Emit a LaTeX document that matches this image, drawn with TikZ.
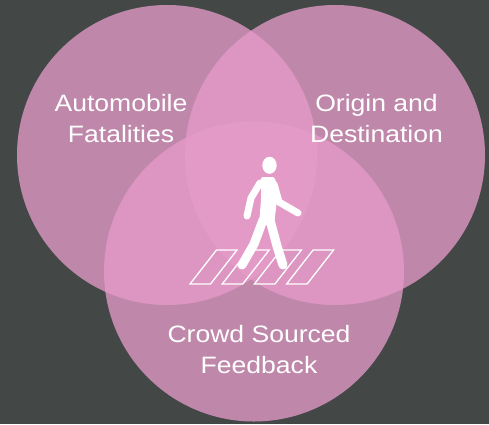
\documentclass[tikz,border=0pt]{standalone}
\usepackage{fontspec}
\newfontfamily\vennfont[FakeStretch=1.12]{Liberation Sans}
\definecolor{sfondo}{RGB}{67,72,71}
\definecolor{rosa}{RGB}{230,156,201}

\begin{document}
\begin{tikzpicture}[x=1pt,y=-1pt]

% Stili per cerchi, testi e pedone
\tikzset{cerchio/.style={fill=rosa, fill opacity=0.76},
  etichetta/.style={text=white, font=\vennfont\fontsize{23.7}{31}\selectfont, align=center, inner sep=0pt},
  strisce/.style={draw=white, line width=1.3pt},
  arto/.style={draw=white, line width=7pt, line cap=round, line join=round}}

% Sfondo
\fill[sfondo] (0,0) rectangle (489,424);
\useasboundingbox (0,0) rectangle (489,424);

% --- Cerchi del diagramma di Venn ---
\fill[cerchio] (167,155) circle (150pt);
\fill[cerchio] (335,155) circle (150pt);
\fill[cerchio] (254,271.5) circle (150pt);

% Testi
\node[etichetta] (auto) at (121,119) {Automobile\\Fatalities};
\node[etichetta] (orig) at (376.5,119) {Origin and\\Destination};
\node[etichetta] (crowd) at (259,349.5) {Crowd Sourced\\Feedback};

% --- Strisce pedonali ---
\foreach \i in {0,...,3}
  \draw[strisce] ({190+32.2*\i},284) -- ++(20.5,0) -- ++(26.5,-34) -- ++(-20.5,0) -- cycle;

% --- Pedone ---
\fill[white] (269.5,165.3) ellipse (7.2 and 8.5);
\fill[white, rounded corners=2pt] (261,177) -- (275,177) -- (277,200) -- (274,225) -- (259,225) -- (261,200) -- cycle;
\draw[arto] (260,183) -- (251,198) -- (247,216);
\draw[arto] (274,184) -- (279,202) -- (298,213);
\draw[arto, line width=9pt] (263,220) -- (254,244) -- (242,265);
\draw[arto, line width=9pt] (270,220) -- (277,246) -- (283,265);

\end{tikzpicture}
\end{document}
